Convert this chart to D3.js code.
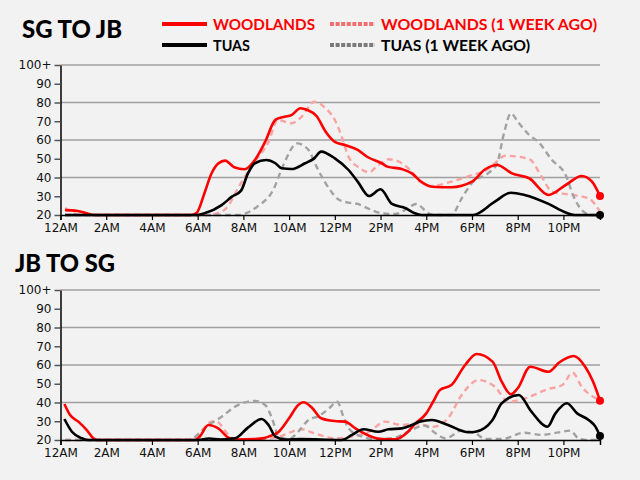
<!DOCTYPE html>
<html>
<head>
<meta charset="utf-8">
<script src="https://cdn.jsdelivr.net/npm/d3@7"></script>
<style>
  html, body { margin: 0; padding: 0; background: #f2f2f2; }
  svg { display: block; }
</style>
</head>
<body>
<svg id="chart" width="640" height="480"></svg>
<script>
// ---------- DATA (hours since midnight, congestion value) ----------
const xTickHours = [0, 2, 4, 6, 8, 10, 12, 14, 16, 18, 20, 22];
const xTickLabels = ["12AM", "2AM", "4AM", "6AM", "8AM", "10AM", "12PM", "2PM", "4PM", "6PM", "8PM", "10PM"];
const yTickValues = [20, 30, 40, 50, 60, 70, 80, 90, 100];
const yTickLabels = ["20", "30", "40", "50", "60", "70", "80", "90", "100+"];
const gridValues = [40, 60, 80, 100];

const panelTitles = ["SG TO JB", "JB TO SG"];
const seriesNames = ["WOODLANDS", "TUAS", "WOODLANDS (1 WEEK AGO)", "TUAS (1 WEEK AGO)"];

// SG TO JB
const sgWoodT = [0.2, 0.7, 1.1, 1.5, 5.7, 5.95, 6.3, 6.6, 6.9, 7.2, 7.6, 8.05, 8.5, 8.95, 9.4, 9.8, 10.1, 10.5, 10.8, 11.2, 11.6, 12.0, 12.45, 13.0, 13.45, 14.05, 14.3, 14.93, 15.37, 15.75, 16.25, 17.1, 18.0, 18.58, 19.1, 19.75, 20.5, 21.35, 22.1, 22.8, 23.25, 23.6];
const sgWoodV = [22.6, 22.3, 21, 20, 20, 21, 31.7, 42, 47.5, 49, 45.5, 44.4, 49.3, 59, 70.7, 72.4, 73.3, 76.9, 76, 72.8, 64.4, 59, 57.3, 54.7, 50.8, 47.6, 45.8, 44.5, 42.2, 38, 35.1, 34.8, 37.8, 44.4, 46.7, 42.2, 39.6, 30.7, 36, 40.8, 37.8, 30.1];

const sgWoodWkT = [0.2, 0.5, 0.9, 6.4, 7.05, 7.4, 7.64, 8.07, 8.5, 9.1, 9.5, 10.1, 10.55, 11.1, 11.6, 12.0, 12.3, 12.6, 13.0, 13.5, 13.9, 14.35, 14.93, 15.37, 15.7, 16.25, 17.1, 18.0, 18.58, 19.0, 19.45, 20.5, 21.05, 21.5, 22.4, 23.1, 23.6];
const sgWoodWkV = [23.7, 21.5, 20, 20, 21.8, 26, 31.6, 40.4, 48.4, 59, 70.7, 68.9, 72.4, 80.4, 76.9, 70.7, 61.8, 51.1, 45.8, 42.8, 46.7, 49.7, 47.6, 43, 38, 35.5, 37.8, 41.3, 43.6, 47.6, 51.6, 49.9, 40.4, 32.4, 30.7, 28.9, 21.8];

const sgTuasT = [0.2, 6.0, 6.3, 7.05, 7.5, 7.9, 8.2, 8.5, 9.0, 9.4, 9.68, 10.1, 10.7, 11.1, 11.4, 12.0, 12.6, 13.0, 13.5, 14.0, 14.5, 15.1, 15.5, 15.8, 18.05, 19.0, 19.7, 20.3, 21.35, 22.1, 22.5, 23.6];
const sgTuasV = [20, 20, 20.9, 25.3, 29.8, 33, 42.2, 47.6, 49.3, 47.6, 44.9, 44.5, 47.6, 50.2, 53.8, 50.2, 44, 37.8, 30.1, 33.7, 25.9, 23.6, 20.9, 20, 20, 27.1, 31.9, 30.7, 25.9, 21.3, 20, 20];

const sgTuasWkT = [0.2, 7.9, 8.0, 8.6, 9.3, 9.75, 10.35, 10.85, 11.2, 11.6, 12.2, 12.6, 13.0, 13.5, 14.05, 14.65, 15.2, 15.55, 16.1, 16.3, 17.1, 17.55, 18.05, 18.7, 19.1, 19.4, 19.7, 20.0, 20.5, 20.9, 21.5, 22.1, 22.45, 22.8, 23.25, 23.6];
const sgTuasWkV = [20, 20, 20.4, 24.4, 33.3, 46.7, 58.2, 54.7, 45.8, 36.9, 28, 26.6, 25.9, 23.2, 20.9, 20.5, 23.6, 25.9, 20.9, 20, 20, 28.9, 37.8, 42.2, 47.6, 63.6, 74.2, 69.8, 62.7, 59, 49.3, 41.3, 29.8, 22.7, 20, 20];

// JB TO SG
const jbWoodT = [0.17, 0.42, 0.78, 1.15, 1.44, 1.6, 5.9, 6.1, 6.47, 6.9, 7.4, 7.7, 8.5, 8.9, 9.1, 9.55, 10.0, 10.4, 10.63, 11.0, 11.4, 12.0, 12.45, 12.9, 13.5, 14.05, 14.65, 15.2, 15.5, 16.0, 16.3, 16.6, 17.1, 17.7, 18.2, 18.9, 19.3, 19.7, 20.0, 20.55, 21.35, 21.8, 22.45, 22.95, 23.3, 23.6];
const jbWoodV = [39.2, 33.3, 29.8, 25.3, 20.9, 20, 20, 22, 28, 26.2, 20.9, 20.3, 20.5, 21, 21.8, 24.4, 31.6, 38.7, 40.1, 37.2, 31.6, 30.1, 29.8, 26.2, 22.3, 20.5, 20.4, 24.4, 28.5, 34.2, 40.4, 46.7, 49.3, 60, 65.9, 61.8, 51.1, 44.4, 47.6, 59.1, 56.4, 61.2, 64.8, 59.1, 51.1, 41];

const jbWoodWkT = [0.2, 5.6, 6.1, 6.6, 6.8, 7.35, 7.7, 9.0, 9.55, 10.55, 11.1, 12.0, 12.75, 13.5, 14.2, 14.93, 15.5, 16.3, 16.95, 17.55, 18.3, 19.0, 19.6, 20.3, 21.35, 21.95, 22.4, 22.8, 23.6];
const jbWoodWkV = [20, 20, 24, 29.8, 30, 22.7, 20, 20.5, 21.8, 25.7, 23.6, 20.9, 21.8, 24.4, 29.8, 28, 28.6, 27.1, 31.6, 44, 52, 48.4, 40.4, 42.2, 47.2, 49.3, 55.9, 48.4, 41.3];

const jbTuasT = [0.17, 0.5, 0.93, 1.2, 6.0, 6.5, 7.0, 7.64, 8.2, 8.8, 9.1, 9.4, 9.83, 10.5, 12.3, 12.75, 13.25, 13.9, 14.35, 14.93, 15.37, 15.7, 16.25, 16.95, 17.85, 18.15, 18.9, 19.3, 20.05, 20.6, 21.3, 21.65, 22.15, 22.6, 23.1, 23.4, 23.6];
const jbTuasV = [31.2, 24.4, 20.9, 20, 20, 20.8, 20.3, 20.9, 26.6, 31.2, 28, 21.8, 20.3, 20.5, 20, 22.7, 25.7, 24.4, 25.7, 26.2, 28, 29.8, 30.7, 28, 24.1, 24.4, 30.7, 39.6, 44, 35.1, 27.1, 34.2, 39.6, 34.2, 30.7, 27.1, 22.1];

const jbTuasWkT = [0.2, 5.6, 6.47, 7.05, 7.64, 8.5, 8.95, 9.25, 9.55, 10.0, 10.4, 10.85, 11.3, 11.75, 12.1, 12.4, 12.6, 13.2, 13.8, 14.5, 15.2, 15.7, 15.95, 16.4, 16.85, 17.55, 18.15, 18.58, 19.3, 20.3, 21.05, 21.8, 22.3, 22.65, 23.0, 23.6];
const jbTuasWkV = [20, 20, 28, 32.4, 37.8, 40.8, 38.7, 31.6, 21.8, 20.5, 24.4, 30.7, 32.8, 36.9, 40.4, 31.6, 26.2, 21.8, 20.5, 20.9, 24.4, 27.1, 27.6, 23.6, 20.9, 25, 23.6, 20.5, 20.5, 23.9, 22.7, 24.1, 25, 20.9, 20, 20];

// ---------- DRAWING ----------
const svg = d3.select("#chart");
svg.append("rect").attr("width", 640).attr("height", 480).attr("fill", "#f2f2f2");

const x = d3.scaleLinear().domain([0, 23.6]).range([60.5, 600]);

const styles = {
  wood:   { stroke: "#ff0000", width: 2.6, dash: null },
  tuas:   { stroke: "#000000", width: 2.6, dash: null },
  woodWk: { stroke: "#f9a3a3", width: 2.4, dash: "6,4" },
  tuasWk: { stroke: "#a2a2a2", width: 2.4, dash: "6,4" }
};

function zip(t, v) { return t.map((h, i) => ({ h: h, v: v[i] })); }

function panel(top, title, titleX, titleBaseline, series) {
  const y = d3.scaleLinear().domain([20, 100]).range([top + 150, top]);
  const g = svg.append("g");

  // title
  g.append("text")
    .attr("x", titleX).attr("y", titleBaseline)
    .attr("font-family", "Lato, 'DejaVu Sans', sans-serif")
    .attr("font-weight", 900).attr("font-size", 25)
    .attr("textLength", 100).attr("lengthAdjust", "spacingAndGlyphs")
    .attr("fill", "#000").text(title);

  // grid
  g.append("g").selectAll("line").data(gridValues).join("line")
    .attr("x1", x.range()[0]).attr("x2", x.range()[1])
    .attr("y1", d => y(d)).attr("y2", d => y(d))
    .attr("stroke", "#a0a0a0").attr("stroke-width", 1.5);

  // lines
  const line = d3.line().x(d => x(d.h)).y(d => y(Math.max(20, d.v))).curve(d3.curveMonotoneX);
  series.forEach(s => {
    const st = styles[s.key];
    g.append("path").datum(zip(s.t, s.v))
      .attr("d", line).attr("fill", "none")
      .attr("stroke", st.stroke).attr("stroke-width", st.width)
      .attr("stroke-dasharray", st.dash)
      .attr("stroke-linejoin", "round");
  });

  // axes
  const yAxis = d3.axisLeft(y).tickValues(yTickValues)
    .tickFormat((d, i) => yTickLabels[i]).tickSize(6).tickSizeOuter(0);
  const ya = g.append("g").attr("transform", `translate(${x.range()[0]},0)`).call(yAxis);
  ya.select(".domain").attr("stroke", "#000").attr("stroke-width", 1.5);
  ya.selectAll(".tick line").attr("stroke", "#555").attr("stroke-width", 1.5);
  ya.selectAll(".tick text").attr("font-family", "'DejaVu Sans', sans-serif").attr("font-size", 12).attr("fill", "#111");

  const xAxis = d3.axisBottom(x).tickValues(xTickHours)
    .tickFormat((d, i) => xTickLabels[i]).tickSize(5).tickSizeOuter(5);
  const xa = g.append("g").attr("transform", `translate(0,${top + 150})`).call(xAxis);
  xa.select(".domain").attr("stroke", "#000").attr("stroke-width", 1.5);
  xa.selectAll(".tick line").attr("stroke", "#000").attr("stroke-width", 1.2);
  xa.selectAll(".tick text").attr("font-family", "'DejaVu Sans', sans-serif").attr("font-size", 12).attr("fill", "#111");

  // end dots
  series.filter(s => s.dot).forEach(s => {
    const last = s.t.length - 1;
    g.append("circle")
      .attr("cx", x(s.t[last])).attr("cy", y(Math.max(20, s.v[last])))
      .attr("r", 4).attr("fill", styles[s.key].stroke);
  });
}

panel(65, panelTitles[0], 22, 38, [
  { key: "woodWk", t: sgWoodWkT, v: sgWoodWkV },
  { key: "tuasWk", t: sgTuasWkT, v: sgTuasWkV },
  { key: "wood", t: sgWoodT, v: sgWoodV, dot: true },
  { key: "tuas", t: sgTuasT, v: sgTuasV, dot: true }
]);

panel(290, panelTitles[1], 15, 272, [
  { key: "woodWk", t: jbWoodWkT, v: jbWoodWkV },
  { key: "tuasWk", t: jbTuasWkT, v: jbTuasWkV },
  { key: "wood", t: jbWoodT, v: jbWoodV, dot: true },
  { key: "tuas", t: jbTuasT, v: jbTuasV, dot: true }
]);

// ---------- LEGEND ----------
const legendItems = [
  { name: seriesNames[0], x: 162, y: 24, color: "#ff0000", textColor: "#ff0000", dash: null, w: 102 },
  { name: seriesNames[1], x: 162, y: 45, color: "#000000", textColor: "#000000", dash: null, w: 37 },
  { name: seriesNames[2], x: 330, y: 24, color: "#f07070", textColor: "#ff0000", dash: "4,1.6", w: 216 },
  { name: seriesNames[3], x: 330, y: 45, color: "#7a7a7a", textColor: "#000000", dash: "4,1.6", w: 149 }
];
const lg = svg.append("g");
legendItems.forEach(it => {
  lg.append("line").attr("x1", it.x).attr("x2", it.x + 45)
    .attr("y1", it.y).attr("y2", it.y)
    .attr("stroke", it.color).attr("stroke-width", 4)
    .attr("stroke-dasharray", it.dash);
  lg.append("text").attr("x", it.x + 51).attr("y", it.y + 5.5)
    .attr("font-family", "Lato, 'DejaVu Sans', sans-serif")
    .attr("font-weight", 700).attr("font-size", 16)
    .attr("textLength", it.w).attr("lengthAdjust", "spacingAndGlyphs")
    .attr("fill", it.textColor).text(it.name);
});
</script>
</body>
</html>
